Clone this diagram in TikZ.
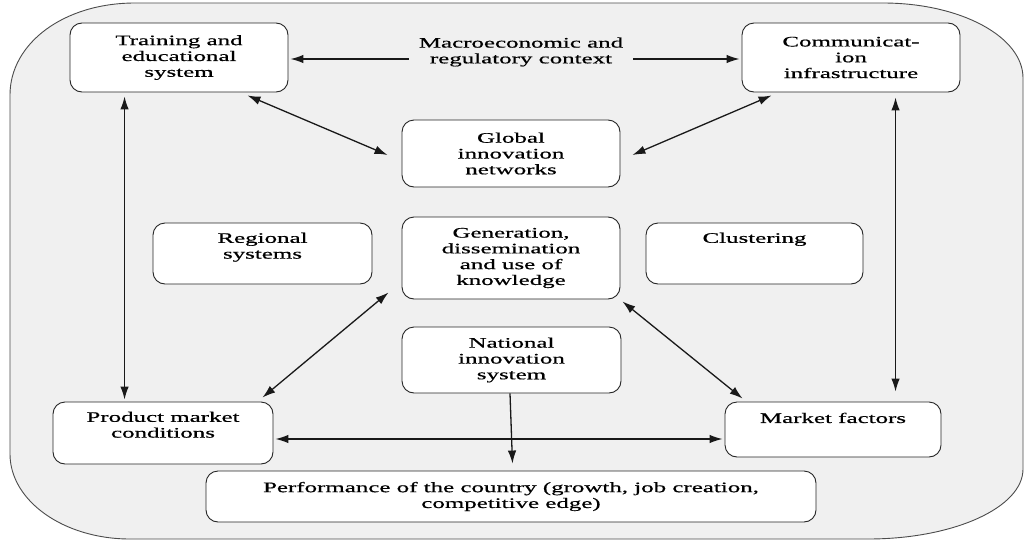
\documentclass[tikz,border=0pt]{standalone}
\usepackage{fontspec}
\setmainfont{Liberation Serif}[FakeStretch=1.72,FakeBold=0.6]
\usetikzlibrary{arrows.meta}
\newcommand\diagfont{\fontsize{14.5}{15.8}\selectfont}
\begin{document}
\begin{tikzpicture}[x=1pt,y=-1pt,
  box/.style={draw=black!85, line width=0.9pt, fill=white, rounded corners=12pt,
              inner sep=0pt, align=center, font=\diagfont},
  txt/.style={inner sep=0pt, align=center, font=\diagfont},
  conn/.style={line width=1.3pt, draw=black!90, -{Latex[length=13pt,width=8.5pt]}},
  dconn/.style={line width=1.3pt, draw=black!90, {Latex[length=13pt,width=8.5pt]}-{Latex[length=13pt,width=8.5pt]}}
]
\useasboundingbox[fill=white] (0,0) rectangle (1028,541);

% outer frame with large elliptical corners
\draw[fill=black!6, draw=black!70, line width=0.9pt]
  (10,95) .. controls (10,43.3) and (63.8,3) .. (135,3)
  -- (883,3) .. controls (960.3,3) and (1023,36.6) .. (1023,78)
  -- (1023,469) .. controls (1023,507.6) and (953.6,539) .. (868,539)
  -- (130,539) .. controls (63.8,539) and (10,500.9) .. (10,454) -- cycle;

% boxes
\node[box, minimum width=218pt, minimum height=69pt] (train) at (179,57.5)
  {Training and\\educational\\system};
\node[box, minimum width=218pt, minimum height=69pt] (comm) at (851,57.5)
  {Communicat-\\ion\\infrastructure};
\node[txt] (macro) at (521,52) {Macroeconomic and\\regulatory context};
\node[box, minimum width=218pt, minimum height=67pt] (glob) at (511,153.5)
  {Global\\innovation\\networks};
\node[box, minimum width=218pt, minimum height=82pt] (gen) at (511,258)
  {Generation,\\dissemination\\and use of\\knowledge};
\node[box, minimum width=219pt, minimum height=61pt] (reg) at (262.5,253.5) {};
\node[txt, anchor=north] (regt) at ([yshift=-10pt]reg.north) {Regional\\systems};
\node[box, minimum width=217pt, minimum height=61pt] (clus) at (754.5,253.5) {};
\node[txt, anchor=north] (clust) at ([yshift=-10pt]clus.north) {Clustering};
\node[box, minimum width=219pt, minimum height=66pt] (nat) at (511.5,360)
  {National\\innovation\\system};
\node[box, minimum width=220pt, minimum height=62pt] (prod) at (163,433) {};
\node[txt, anchor=north] (prodt) at ([yshift=-10pt]prod.north) {Product market\\conditions};
\node[box, minimum width=216pt, minimum height=55pt] (mkt) at (833,429.5) {};
\node[txt, anchor=north] (mktt) at ([yshift=-11pt]mkt.north) {Market factors};
\node[box, minimum width=610pt, minimum height=51pt] (perf) at (511,496.5)
  {Performance of the country (growth, job creation,\\competitive edge)};

% connectors
\draw[conn] ([xshift=-10pt,yshift=-7pt]macro.west) -- ([xshift=2pt,yshift=-1.5pt]train.east);
\draw[conn] ([xshift=10pt,yshift=-7pt]macro.east) -- ([xshift=-2pt,yshift=-1.5pt]comm.west);
\draw[dconn] ([xshift=-41pt,yshift=-3pt]train.south east) -- ([xshift=-14pt,yshift=-1.5pt]glob.west);
\draw[dconn] ([xshift=12pt,yshift=-1.5pt]glob.east) -- ([xshift=30pt,yshift=-3pt]comm.south west);

\coordinate (tl) at ([xshift=55pt]train.south west);
\draw[dconn, shorten <=4pt, shorten >=2pt] (tl) -- (tl |- prod.north);
\coordinate (cr) at ([xshift=154pt]comm.south west);
\draw[dconn, shorten <=5pt, shorten >=10pt] (cr) -- (cr |- mkt.north);

\coordinate (ph) at ([yshift=-6pt]prod.east);
\draw[dconn, shorten <=2pt, shorten >=2pt] (ph) -- (ph -| mkt.west);

\draw[dconn] ([xshift=-13pt,yshift=7pt]gen.south west) -- ([xshift=-11pt,yshift=4pt]prod.north east);
\draw[dconn] ([xshift=2pt,yshift=-2pt]gen.south east) -- ([xshift=18pt,yshift=3pt]mkt.north west);

\draw[conn] ([xshift=-1.5pt]nat.south) -- ([xshift=1.5pt,yshift=7pt]perf.north);
\end{tikzpicture}
\end{document}
